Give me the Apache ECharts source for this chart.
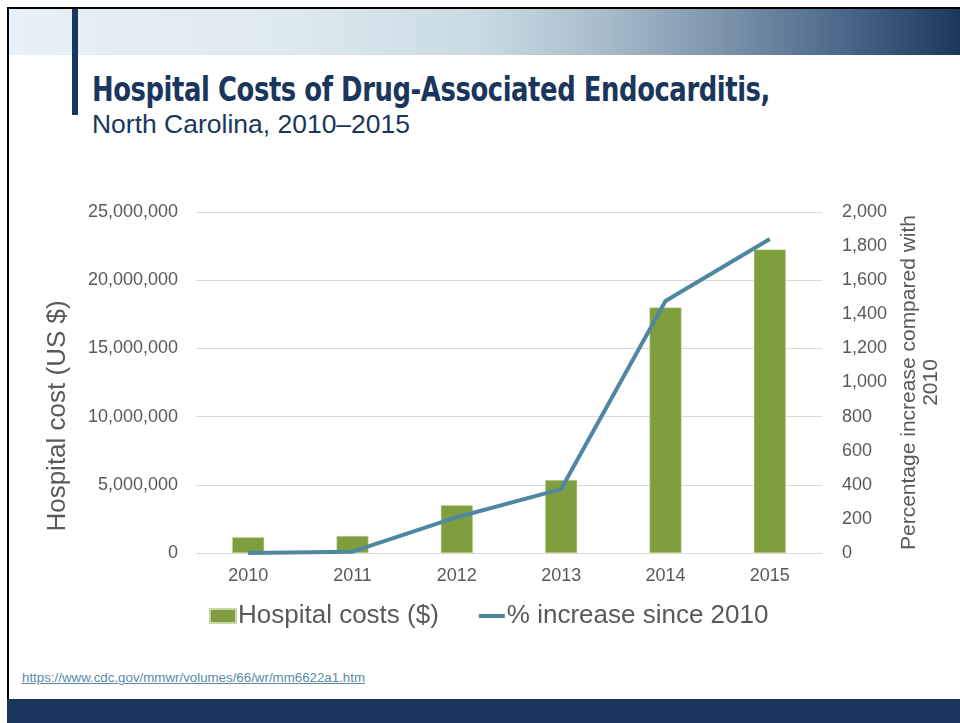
<!DOCTYPE html>
<html>
<head>
<meta charset="utf-8">
<script src="https://cdn.jsdelivr.net/npm/echarts@6/dist/echarts.min.js"></script>
<style>
  html, body { margin: 0; padding: 0; background: #fff; }
  #slide { position: relative; width: 960px; height: 723px; overflow: hidden; font-family: "Liberation Sans", Arial, sans-serif; }
  .band { position: absolute; left: 9px; top: 9px; width: 951px; height: 46px;
    background: linear-gradient(to right, #e9f0f7 0%, #dde9f0 30%, #c8dae3 50%, #a9bdcb 62%, #7d94ab 75%, #4a6689 88%, #1b375c 100%); }
  .frameTop { position: absolute; left: 7px; top: 7px; width: 953px; height: 2px; background: #000; }
  .frameLeft { position: absolute; left: 7px; top: 7px; width: 2px; height: 692px; background: #000; }
  .vbar { position: absolute; left: 72px; top: 9px; width: 6px; height: 106px; background: #1b365d; }
  .foot { position: absolute; left: 7px; top: 699px; width: 953px; height: 24px; background: #1a365d; }
  #title { position: absolute; left: 92px; top: 69px; font-family: "DejaVu Sans Condensed", "DejaVu Sans", sans-serif;
    font-weight: bold; font-size: 34px; line-height: 40px; color: #1b365d; white-space: nowrap; transform-origin: 0 0; letter-spacing: -0.5px; }
  #subtitle { position: absolute; left: 92px; top: 109px; font-size: 26px; line-height: 30px; color: #1b365d; white-space: nowrap; transform-origin: 0 0; }
  #link { position: absolute; left: 22px; top: 671px; font-size: 12px; line-height: 14px; color: #5a89aa; text-decoration: underline; white-space: nowrap; transform-origin: 0 0; }
  #chart { position: absolute; left: 0; top: 0; width: 960px; height: 723px; }
</style>
</head>
<body>
<div id="slide">
  <div class="band"></div>
  <div class="frameTop"></div>
  <div class="frameLeft"></div>
  <div class="vbar"></div>
  <div class="foot"></div>
  <div id="title">Hospital Costs of Drug-Associated Endocarditis,</div>
  <div id="subtitle">North Carolina, 2010–2015</div>
  <div id="link">https://www.cdc.gov/mmwr/volumes/66/wr/mm6622a1.htm</div>
  <div id="chart"></div>
</div>
<script type="text/javascript">
  // values
  var years = ['2010', '2011', '2012', '2013', '2014', '2015'];
  var hospitalCosts = [1150000, 1250000, 3500000, 5350000, 18000000, 22250000];
  var pctIncrease = [0, 8, 210, 375, 1478, 1842];

  // stretch the text blocks to the widths seen on the slide
  function fitWidth(id, w) {
    var el = document.getElementById(id);
    var cur = el.getBoundingClientRect().width;
    el.style.transform = 'scaleX(' + (w / cur) + ')';
  }
  fitWidth('title', 678);
  fitWidth('subtitle', 318);
  fitWidth('link', 343);

  var txt = '#595959';
  var fmt = function (v) { return Number(v).toLocaleString('en-US'); };

  var option = {
    animation: false,
    textStyle: { fontFamily: 'Liberation Sans, Arial, sans-serif' },
    grid: { left: 196, right: 138, top: 212, bottom: 170, containLabel: false },
    // left axis title sits lower than the axis middle on the slide
    graphic: [{
      type: 'text', x: 58, y: 416, rotation: Math.PI / 2,
      style: {
        text: 'Hospital cost (US $)', fontSize: 26, fill: txt,
        fontFamily: 'Liberation Sans, Arial, sans-serif',
        align: 'center', verticalAlign: 'middle'
      }
    }],
    legend: {
      left: 204, top: 598,
      itemWidth: 26, itemHeight: 14, itemGap: 40,
      textStyle: { fontSize: 26, color: txt, padding: [0, 0, 0, -3] },
      data: [
        { name: 'Hospital costs ($)', icon: 'rect' },
        { name: '% increase since 2010', icon: 'path://M0,0 H26 V4 H0 Z' }
      ]
    },
    xAxis: {
      type: 'category',
      data: years,
      axisTick: { show: false },
      axisLine: { lineStyle: { color: '#d9d9d9', width: 1 } },
      axisLabel: { color: txt, fontSize: 18, margin: 14 }
    },
    yAxis: [
      {
        type: 'value', min: 0, max: 25000000, interval: 5000000,
        axisLine: { show: false }, axisTick: { show: false },
        axisLabel: { color: txt, fontSize: 18, margin: 18, formatter: fmt },
        splitLine: { lineStyle: { color: '#d9d9d9' } }
      },
      {
        type: 'value', min: 0, max: 2000, interval: 200,
        name: 'Percentage increase compared with\n2010', nameLocation: 'middle', nameRotate: 90, nameGap: 74,
        nameTextStyle: { fontSize: 21, color: txt, lineHeight: 22, align: 'center' },
        axisLine: { show: false }, axisTick: { show: false },
        axisLabel: { color: txt, fontSize: 18, margin: 20, formatter: fmt },
        splitLine: { show: false }
      }
    ],
    series: [
      {
        name: 'Hospital costs ($)', type: 'bar', yAxisIndex: 0,
        data: hospitalCosts, barWidth: 32,
        itemStyle: { color: '#7f9f3f', borderColor: '#c9d8a8', borderWidth: 0.5 }
      },
      {
        name: '% increase since 2010', type: 'line', yAxisIndex: 1,
        data: pctIncrease, symbol: 'none',
        lineStyle: { color: '#4f86a1', width: 4 },
        itemStyle: { color: '#4f86a1' }
      }
    ]
  };

  var myChart = echarts.init(document.getElementById('chart'));
  myChart.setOption(option);
</script>
</body>
</html>
